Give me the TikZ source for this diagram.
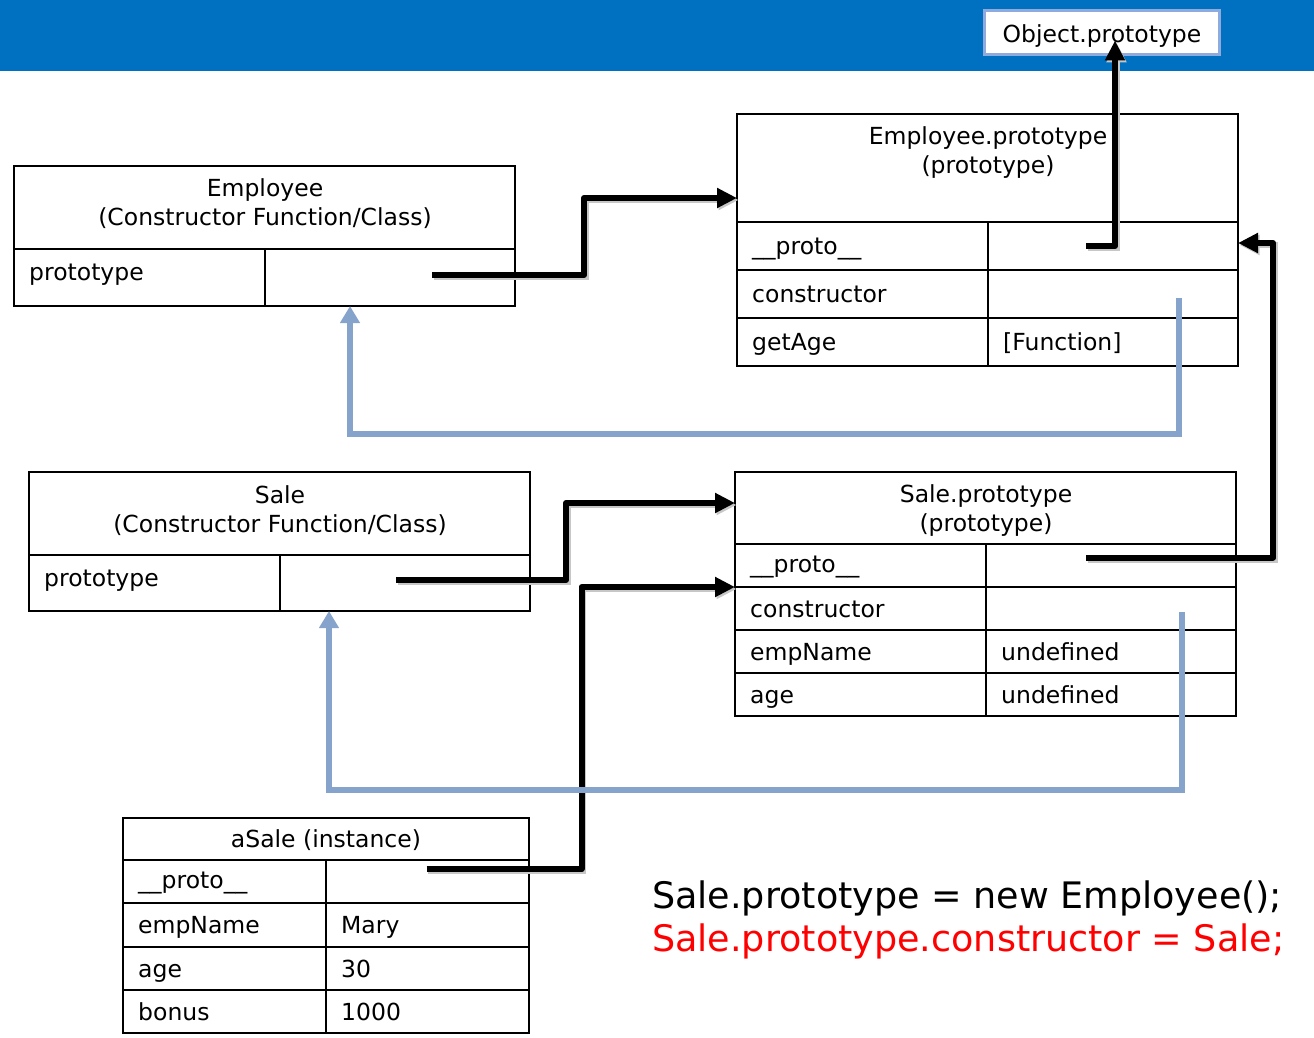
\documentclass[tikz,border=0pt]{standalone}
\usepackage{fontspec}
\setmainfont{DejaVu Sans}
\usetikzlibrary{arrows.meta}
\definecolor{banner}{RGB}{0,112,192}
\definecolor{objedge}{RGB}{143,170,220}
\definecolor{linkblue}{RGB}{134,163,204}
\begin{document}
\begin{tikzpicture}[x=1pt,y=-1pt,
  cell/.style 2 args={draw, line width=1.4pt, minimum width=#1, minimum height=#2, anchor=north west, inner sep=0pt, outer sep=0pt},
  txt/.style={font=\fontsize{23.5}{29}\selectfont, inner sep=0pt},
  lbl/.style={txt, anchor=base west, xshift=15pt, yshift=-8.5pt},
  hdr/.style={txt, align=center},
  blk/.style={line width=6pt, line join=round, -{Triangle[length=20pt,width=19pt]},
    preaction={draw=black!22, line width=6pt, transform canvas={xshift=1.5pt,yshift=-2pt}}},
  blu/.style={draw=linkblue, line width=5.5pt, line join=miter, -{Triangle[length=17pt,width=19pt]}}
]
\path[use as bounding box] (0,0) rectangle (1314,1038);
\fill[banner] (0,0) rectangle (1314,71);
\node[draw=objedge, line width=3pt, fill=white, minimum width=235, minimum height=44, inner sep=0pt, txt, text height=20pt, text depth=1.6pt] (obj) at (1102,33) {Object.prototype};

% Employee
\node[cell={501}{83}] (empH) at (14,166) {};
\node[cell={251}{57}] (empPL) at (14,249) {};
\node[cell={250}{57}] (empPV) at (265,249) {};
\node[hdr] (empT) at (265,204) {Employee\\(Constructor Function/Class)};
\node[lbl] (empPLt) at ([yshift=5.5pt]empPL.west) {prototype};

% Employee.prototype
\node[cell={501}{108}] (epH) at (737,114) {};
\node[cell={251}{48}] (epPL) at (737,222) {};
\node[cell={250}{48}] (epPV) at (988,222) {};
\node[cell={251}{48}] (epCL) at (737,270) {};
\node[cell={250}{48}] (epCV) at (988,270) {};
\node[cell={251}{48}] (epGL) at (737,318) {};
\node[cell={250}{48}] (epGV) at (988,318) {};
\node[hdr] (epT) at (988,153) {Employee.prototype\\(prototype)};
\node[lbl] (epPLt) at (epPL.west) {\_\_proto\_\_};
\node[lbl] (epCLt) at (epCL.west) {constructor};
\node[lbl] (epGLt) at (epGL.west) {getAge};
\node[lbl] (epGVt) at (epGV.west) {[Function]};

% Sale
\node[cell={501}{83}] (sH) at (29,472) {};
\node[cell={251}{56}] (sPL) at (29,555) {};
\node[cell={250}{56}] (sPV) at (280,555) {};
\node[hdr] (sT) at (280,510.5) {Sale\\(Constructor Function/Class)};
\node[lbl] (sPLt) at ([yshift=5.5pt]sPL.west) {prototype};

% Sale.prototype
\node[cell={501}{72}] (spH) at (735,472) {};
\node[cell={251}{43}] (spPL) at (735,544) {};
\node[cell={250}{43}] (spPV) at (986,544) {};
\node[cell={251}{43}] (spCL) at (735,587) {};
\node[cell={250}{43}] (spCV) at (986,587) {};
\node[cell={251}{43}] (spNL) at (735,630) {};
\node[cell={250}{43}] (spNV) at (986,630) {};
\node[cell={251}{43}] (spAL) at (735,673) {};
\node[cell={250}{43}] (spAV) at (986,673) {};
\node[hdr] (spT) at (986,510.5) {Sale.prototype\\(prototype)};
\node[lbl] (spPLt) at ([yshift=1.5pt]spPL.west) {\_\_proto\_\_};
\node[lbl] (spCLt) at (spCL.west) {constructor};
\node[lbl] (spNLt) at (spNL.west) {empName};
\node[lbl] (spNVt) at (spNV.west) {undefined};
\node[lbl] (spALt) at (spAL.west) {age};
\node[lbl] (spAVt) at (spAV.west) {undefined};

% aSale
\node[cell={406}{42}] (asH) at (123,818) {};
\node[cell={203}{43}] (asPL) at (123,860) {};
\node[cell={203}{43}] (asPV) at (326,860) {};
\node[cell={203}{44}] (asNL) at (123,903) {};
\node[cell={203}{44}] (asNV) at (326,903) {};
\node[cell={203}{43}] (asAL) at (123,947) {};
\node[cell={203}{43}] (asAV) at (326,947) {};
\node[cell={203}{43}] (asBL) at (123,990) {};
\node[cell={203}{43}] (asBV) at (326,990) {};
\node[txt, anchor=base, yshift=-8.5pt] (asT) at (asH.center) {aSale (instance)};
\node[lbl] (asPLt) at ([yshift=1.5pt]asPL.west) {\_\_proto\_\_};
\node[lbl] (asNLt) at (asNL.west) {empName};
\node[lbl] (asNVt) at (asNV.west) {Mary};
\node[lbl] (asALt) at (asAL.west) {age};
\node[lbl] (asAVt) at (asAV.west) {30};
\node[lbl] (asBLt) at (asBL.west) {bonus};
\node[lbl] (asBVt) at (asBV.west) {1000};

% code
\node[anchor=west, font=\fontsize{36.5}{43}\selectfont, align=left, inner sep=0pt] (code) at (652,920)
  {Sale.prototype = new Employee();\\\textcolor{red}{Sale.prototype.constructor = Sale;}};

% black links
\coordinate (a1s) at ([xshift=42pt,yshift=2.5pt]empPV.center);
\draw[blk] (a1s) -- ++(152,0) |- ([yshift=-30pt]epH.west);
\coordinate (a2s) at ([xshift=-27pt]epPV.center);
\draw[blk] (a2s) -| ([xshift=13pt,yshift=16pt]obj.south);
\coordinate (a3s) at ([xshift=-25pt,yshift=8pt]spPV.center);
\draw[blk] (a3s) -- ++(187,0) |- ([yshift=3pt]epPV.east);
\coordinate (a4s) at ([xshift=-9pt,yshift=3pt]sPV.center);
\draw[blk] (a4s) -- ++(170,0) |- ([yshift=5pt]spH.west);
\coordinate (a5s) at ([xshift=-1pt,yshift=12.5pt]asPV.center);
\draw[blk] (a5s) -- ++(155,0) |- (spPL.south west);

% blue links
\coordinate (b1s) at ([xshift=66pt,yshift=-4pt]epCV.center);
\draw[blu] (b1s) -- ++(0,136) -| ([xshift=85pt]empPV.south west);
\coordinate (b2s) at ([xshift=71pt,yshift=-3.5pt]spCV.center);
\draw[blu] (b2s) -- ++(0,178) -| ([xshift=49pt]sPV.south west);
\end{tikzpicture}
\end{document}
